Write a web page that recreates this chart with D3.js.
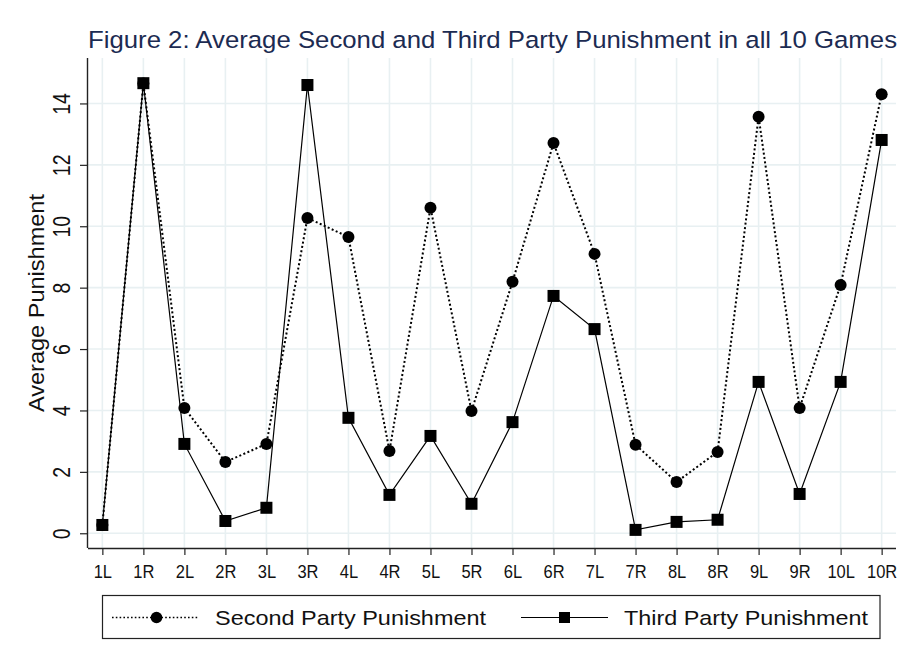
<!DOCTYPE html>
<html><head><meta charset="utf-8">
<script src="https://cdn.jsdelivr.net/npm/d3@7"></script>
<style>body{margin:0;background:#fff;} svg{display:block;font-family:"Liberation Sans",Arial,sans-serif;}</style>
</head><body>
<script>
const categories = ["1L","1R","2L","2R","3L","3R","4L","4R","5L","5R","6L","6R","7L","7R","8L","8R","9L","9R","10L","10R"];
const secondParty = [0.27,14.65,4.08,2.32,2.91,10.27,9.65,2.68,10.6,3.98,8.19,12.71,9.1,2.88,1.67,2.65,13.57,4.08,8.09,14.3];
const thirdParty  = [0.27,14.66,2.91,0.4,0.83,14.6,3.76,1.25,3.17,0.96,3.62,7.73,6.65,0.11,0.37,0.44,4.93,1.28,4.93,12.81];
const yTicks = [0,2,4,6,8,10,12,14];
const titleText = "Figure 2: Average Second and Third Party Punishment in all 10 Games";
const yLabel = "Average Punishment";
const legendLabels = ["Second Party Punishment","Third Party Punishment"];

const W=919,H=670;
const L=88,R=896,T=58,B=548;
const svg=d3.select("body").append("svg").attr("width",W).attr("height",H);
svg.append("rect").attr("width",W).attr("height",H).attr("fill","#fff");

const x=d3.scalePoint().domain(categories).range([L,R]).padding(0.35);
const y=d3.scaleLinear().domain([-0.48,15.48]).range([B,T]);

const grid="#e8f0f2";
svg.append("g").selectAll("line").data(categories).join("line")
  .attr("x1",d=>x(d)).attr("x2",d=>x(d)).attr("y1",T).attr("y2",B)
  .attr("stroke",grid).attr("stroke-width",1.6);
svg.append("g").selectAll("line").data(yTicks).join("line")
  .attr("x1",L).attr("x2",R).attr("y1",d=>y(d)).attr("y2",d=>y(d))
  .attr("stroke",grid).attr("stroke-width",1.6);

const xAxis=svg.append("g").attr("transform",`translate(0,${B})`)
  .call(d3.axisBottom(x).tickSize(7).tickPadding(7).tickSizeOuter(0));
xAxis.attr("font-size",null).attr("font-family",null);
xAxis.select(".domain").attr("d",`M${L},0.5H${R}`).attr("stroke","#222").attr("stroke-width",1.4);
xAxis.selectAll(".tick line").attr("stroke","#222").attr("stroke-width",1.2);
xAxis.selectAll(".tick text").style("font-size","16.5px").attr("fill","#111")
  .attr("y",0).attr("dy",0).attr("transform","translate(0,30) scale(1,1.08)");

const yAxis=svg.append("g").attr("transform",`translate(${L},0)`)
  .call(d3.axisLeft(y).tickValues(yTicks).tickSize(8).tickSizeOuter(0));
yAxis.attr("font-size",null).attr("font-family",null);
yAxis.select(".domain").attr("d",`M-0.5,${T}V${B}`).attr("stroke","#222").attr("stroke-width",1.4);
yAxis.selectAll(".tick line").attr("stroke","#222").attr("stroke-width",1.2);
yAxis.selectAll(".tick text").style("font-size","19.5px").attr("fill","#111")
  .attr("x",0).attr("y",0).attr("dy",0)
  .attr("transform","rotate(-90) translate(0,-18) scale(1,1.18)")
  .attr("text-anchor","middle");

svg.append("text").attr("transform",`translate(44,${(T+B)/2}) rotate(-90)`)
  .attr("text-anchor","middle").style("font-size","22px").attr("fill","#111")
  .attr("textLength",218).attr("lengthAdjust","spacingAndGlyphs").text(yLabel);

svg.append("text").attr("x",88).attr("y",48).style("font-size","24.5px").attr("fill","#1c2b52")
  .attr("textLength",809).attr("lengthAdjust","spacingAndGlyphs").text(titleText);

const line=d3.line().x((d,i)=>x(categories[i])).y(d=>y(d));
svg.append("path").datum(secondParty).attr("d",line).attr("fill","none")
  .attr("stroke","#000").attr("stroke-width",2).attr("stroke-dasharray","2,2.4");
svg.append("path").datum(thirdParty).attr("d",line).attr("fill","none")
  .attr("stroke","#000").attr("stroke-width",1.2);

svg.append("g").selectAll("circle").data(secondParty).join("circle")
  .attr("cx",(d,i)=>x(categories[i])).attr("cy",d=>y(d)).attr("r",6).attr("fill","#000");
const s=12;
svg.append("g").selectAll("rect").data(thirdParty).join("rect")
  .attr("x",(d,i)=>x(categories[i])-s/2).attr("y",d=>y(d)-s/2).attr("width",s).attr("height",s).attr("fill","#000");

const lg=svg.append("g");
lg.append("rect").attr("x",102.5).attr("y",595.5).attr("width",777.5).attr("height",43)
  .attr("fill","#fff").attr("stroke","#222").attr("stroke-width",1.2);
const ly=617.5;
lg.append("line").attr("x1",112).attr("x2",199).attr("y1",ly).attr("y2",ly)
  .attr("stroke","#000").attr("stroke-width",1.6).attr("stroke-dasharray","1.6,2.2");
lg.append("circle").attr("cx",156.5).attr("cy",ly).attr("r",5.8).attr("fill","#000");
lg.append("text").attr("x",215).attr("y",625).style("font-size","21px").attr("fill","#111")
  .attr("textLength",271).attr("lengthAdjust","spacingAndGlyphs").text(legendLabels[0]);
lg.append("line").attr("x1",521).attr("x2",608).attr("y1",ly).attr("y2",ly)
  .attr("stroke","#000").attr("stroke-width",1.2);
lg.append("rect").attr("x",564.5-5.5).attr("y",ly-5.5).attr("width",11).attr("height",11).attr("fill","#000");
lg.append("text").attr("x",624).attr("y",625).style("font-size","21px").attr("fill","#111")
  .attr("textLength",244).attr("lengthAdjust","spacingAndGlyphs").text(legendLabels[1]);
</script>
</body></html>
